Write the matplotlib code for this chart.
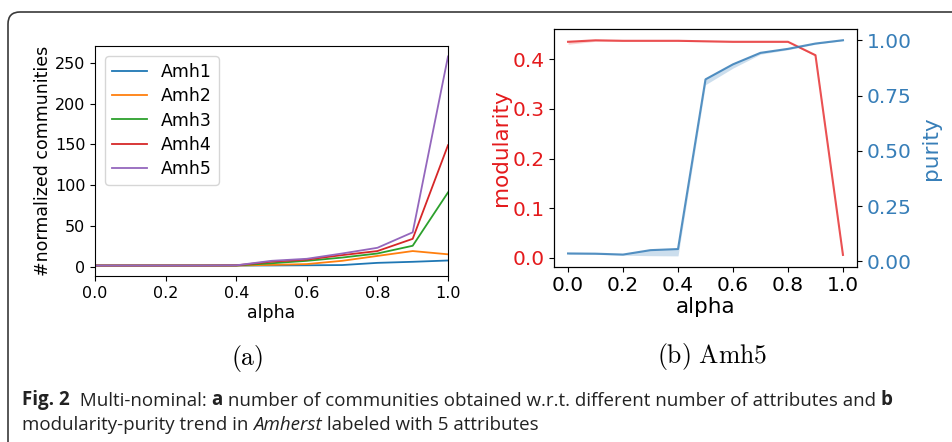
import matplotlib
matplotlib.use("Agg")
import matplotlib.pyplot as plt
from matplotlib import font_manager
from matplotlib.patches import FancyBboxPatch

# data
alpha = [0.0, 0.1, 0.2, 0.3, 0.4, 0.5, 0.6, 0.7, 0.8, 0.9, 1.0]
names = ["Amh1", "Amh2", "Amh3", "Amh4", "Amh5"]
amh1 = [1.2, 1.2, 1.2, 1.2, 1.2, 1.3, 1.5, 1.8, 4.5, 5.8, 7.4]
amh2 = [1.2, 1.2, 1.2, 1.2, 1.2, 2.0, 3.0, 7.0, 13.0, 19.0, 15.0]
amh3 = [1.2, 1.2, 1.2, 1.2, 1.3, 4.0, 7.0, 11.0, 16.0, 25.5, 91.0]
amh4 = [1.2, 1.2, 1.2, 1.2, 1.4, 6.0, 8.5, 14.0, 19.0, 34.0, 149.0]
amh5 = [1.2, 1.2, 1.2, 1.2, 1.5, 7.0, 9.5, 16.0, 23.0, 42.0, 258.0]

modularity = [0.435, 0.438, 0.437, 0.437, 0.437, 0.436, 0.435, 0.435, 0.435, 0.408, 0.006]
modularity_lo = [0.430, 0.436, 0.436, 0.436, 0.436, 0.435, 0.434, 0.434, 0.434, 0.406, 0.004]
modularity_hi = [0.437, 0.439, 0.438, 0.438, 0.438, 0.437, 0.436, 0.436, 0.436, 0.410, 0.008]
purity = [0.036, 0.035, 0.031, 0.051, 0.056, 0.824, 0.892, 0.944, 0.962, 0.986, 1.001]
purity_lo = [0.033, 0.032, 0.028, 0.026, 0.025, 0.800, 0.875, 0.938, 0.958, 0.983, 0.999]
purity_hi = [0.038, 0.037, 0.033, 0.054, 0.059, 0.830, 0.898, 0.948, 0.965, 0.988, 1.003]

caption1 = [("Fig. 2", "bold", "normal"),
            ("  Multi-nominal: ", "normal", "normal"),
            ("a", "bold", "normal"),
            (" number of communities obtained w.r.t. different number of attributes and ", "normal", "normal"),
            ("b", "bold", "normal")]
caption2 = [("modularity-purity trend in ", "normal", "normal"),
            ("Amherst", "normal", "italic"),
            (" labeled with 5 attributes", "normal", "normal")]

RED = "#e41a1c"
BLUE = "#377eb8"


def pick_font(names_list):
    for n in names_list:
        try:
            font_manager.findfont(font_manager.FontProperties(family=n), fallback_to_default=False)
            return n
        except Exception:
            pass
    return "DejaVu Sans"


cap_font = pick_font(["Liberation Sans Narrow", "Open Sans", "Noto Sans"])
plt.rcParams["mathtext.fontset"] = "cm"

W, H = 952, 442
fig = plt.figure(figsize=(W / 100, H / 100), dpi=100)

# rounded frame around the figure block
frame = FancyBboxPatch((0.08, -1.0), 20, (H - 12) / 100 + 1.0,
                       boxstyle="round,pad=0,rounding_size=0.12",
                       transform=fig.dpi_scale_trans, fill=False,
                       ec="#3a3a3a", lw=1.2, clip_on=False)
fig.add_artist(frame)

# (a) number of communities
ax1 = fig.add_axes([95 / W, 1 - 276 / H, 353 / W, 230 / H])
for name, vals in zip(names, [amh1, amh2, amh3, amh4, amh5]):
    ax1.plot(alpha, vals, label=name, lw=1.3)
ax1.set_xlim(0, 1)
ax1.set_yticks([0, 50, 100, 150, 200, 250])
ax1.set_xticks([0.0, 0.2, 0.4, 0.6, 0.8, 1.0])
ax1.tick_params(labelsize=11.5)
ax1.set_xlabel("alpha", fontsize=12.5, labelpad=2)
ax1.set_ylabel("#normalized communities", fontsize=12.5, labelpad=2)
ax1.legend(loc="upper left", fontsize=12.5, labelspacing=0.35, handlelength=2.0,
           borderaxespad=0.6)

# (b) modularity / purity
ax2 = fig.add_axes([554.3 / W, 1 - 266.7 / H, 302.4 / W, 237.7 / H])
ax2.fill_between(alpha, modularity_lo, modularity_hi, color=RED, alpha=0.2, lw=0)
ax2.plot(alpha, modularity, color=RED, alpha=0.75, lw=1.5)
ax2.set_yticks([0.0, 0.1, 0.2, 0.3, 0.4])
ax2.set_xticks([0.0, 0.2, 0.4, 0.6, 0.8, 1.0])
ax2.tick_params(axis="y", labelsize=14.5, labelcolor=RED)
ax2.tick_params(axis="x", labelsize=14.5)
ax2.set_ylabel("modularity", color=RED, fontsize=15.5, labelpad=1)
ax2.set_xlabel("alpha", fontsize=15.5, labelpad=1)

ax3 = ax2.twinx()
ax3.fill_between(alpha, purity_lo, purity_hi, color=BLUE, alpha=0.25, lw=0)
ax3.plot(alpha, purity, color=BLUE, alpha=0.85, lw=1.5)
ax3.set_yticks([0.0, 0.25, 0.5, 0.75, 1.0])
ax3.tick_params(axis="y", labelsize=14.5, labelcolor=BLUE)
ax3.set_ylabel("purity", color=BLUE, fontsize=15.5, labelpad=7)

# sub captions
fig.text(246.7 / W, 1 - 358 / H, r"$\mathrm{(a)}$", fontsize=18.5, ha="center", va="center")
fig.text(711.7 / W, 1 - 357 / H, r"$\mathrm{(b)\ Amh5}$", fontsize=18.5, ha="center", va="center")

# figure caption, each piece placed right after the previous one
cap_size = 13.5
for pieces, y in [(caption1, 1 - 410 / H), (caption2, 1 - 434 / H)]:
    prev = None
    for txt, weight, style in pieces:
        kw = dict(fontsize=cap_size, family=cap_font, weight=weight, style=style,
                  color="#222222", va="bottom")
        if prev is None:
            prev = fig.text(22 / W, y, txt, **kw)
        else:
            prev = ax1.annotate(txt, xy=(1, 0), xycoords=prev, ha="left",
                                annotation_clip=False, **kw)

plt.savefig("out.png", dpi=100)
